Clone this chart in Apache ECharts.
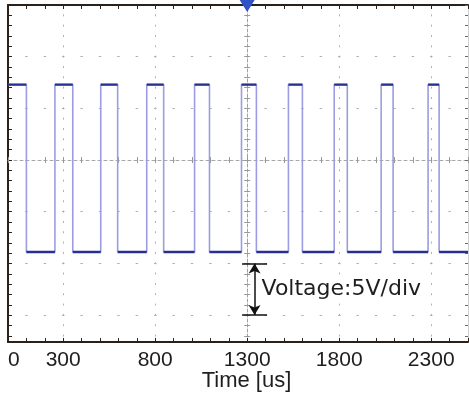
<!DOCTYPE html>
<html><head><meta charset="utf-8">
<script src="https://cdn.jsdelivr.net/npm/echarts@6/dist/echarts.min.js"></script>
<style>html,body{margin:0;padding:0;background:#fff}#c{width:469px;height:396px}</style>
</head><body><div id="c"></div>
<script>
// ---- data ----
const edgeTimes = [100, 255, 352, 504, 596, 754, 846, 1014, 1095, 1269, 1350, 1524, 1600, 1773, 1844, 2028, 2093, 2283, 2343]; // us, alternating fall / rise
const startsHigh = true;
const highLevel = 17.3;   // V
const lowLevel = 1.1;     // V
const timeStart = 0, timeEnd = 2500;          // us
const voltMin = -7.6, voltMax = 25;           // V
const xTickLabels = [0, 300, 800, 1300, 1800, 2300];
const xGridLines = [300, 800, 1300, 1800, 2300];
const yGridLines = [-5, 0, 5, 10, 15, 20];
const xMinorStep = 100, yMinorStep = 1;
const centerTime = 1300, centerVolt = 10;
const triggerTime = 1300;
const scaleBarTime = 1340, scaleBarFrom = 0, scaleBarTo = -5;
const scaleBarText = 'Voltage:5V/div';
const xAxisName = 'Time [us]';

// ---- build library structures ----
const wave = [];
let level = startsHigh ? highLevel : lowLevel;
wave.push([timeStart, level]);
edgeTimes.forEach(t => {
  wave.push([t, level]);
  level = (level === highLevel) ? lowLevel : highLevel;
  wave.push([t, level]);
});
wave.push([timeEnd, level]);
const plateaus = [];
for (let i = 0; i + 1 < wave.length; i += 2) { plateaus.push(wave[i], wave[i + 1], [wave[i + 1][0], '-']); }
const yMinorTicks = [];
for (let v = Math.ceil(voltMin); v <= voltMax; v += yMinorStep) yMinorTicks.push(v);

const edgeColor = '#2b2118';
const hidden = { axisLine: { show: false }, axisTick: { show: false }, axisLabel: { show: false }, splitLine: { show: false } };
const pxPerUs = 460 / (timeEnd - timeStart);
const capHalf = 12.5 / pxPerUs;

const chart = echarts.init(document.getElementById('c'), null, { renderer: 'canvas' });
chart.setOption({
  animation: false,
  backgroundColor: '#ffffff',
  grid: { left: 8, right: 1, top: 5, bottom: 54, containLabel: false, outerBoundsMode: 'none' },
  xAxis: [
    { // 0 bottom edge
      type: 'value', position: 'bottom', min: timeStart, max: timeEnd, interval: xMinorStep,
      axisLine: { onZero: false, lineStyle: { color: edgeColor, width: 2 } },
      axisTick: { inside: true, length: 4, lineStyle: { color: edgeColor } },
      axisLabel: { margin: 8, fontSize: 21, color: '#1e1e1e', fontFamily: 'Liberation Sans', alignMinLabel: 'left',
        formatter: v => xTickLabels.includes(v) ? String(v) : '' },
      splitLine: { show: false },
      name: xAxisName, nameLocation: 'middle', nameGap: 28, nameMoveOverlap: false,
      nameTextStyle: { fontSize: 22, color: '#1e1e1e', fontFamily: 'Liberation Sans', padding: [0, 0, 0, 17] }
    },
    { // 1 top edge
      type: 'value', position: 'top', min: timeStart, max: timeEnd, interval: xMinorStep,
      axisLine: { onZero: false, lineStyle: { color: edgeColor, width: 2 } },
      axisTick: { inside: true, length: 4, lineStyle: { color: edgeColor } },
      axisLabel: { show: false }, splitLine: { show: false }
    },
    { // 2 vertical grid lines
      type: 'value', position: 'bottom', min: timeStart, max: timeEnd,
      axisLine: { show: false, onZero: false }, axisLabel: { show: false },
      axisTick: { show: false, customValues: xGridLines },
      splitLine: { show: true, lineStyle: { color: '#b0b0b0', width: 1, type: [2, 8.33], dashOffset: 1 } }
    },
    { // 3 center horizontal line, ticks up
      type: 'value', position: 'bottom', min: timeStart, max: timeEnd, interval: xMinorStep,
      axisLine: { onZero: true, onZeroAxisIndex: 3, lineStyle: { color: '#a8a8a8', width: 1, type: [3, 3] } },
      axisTick: { inside: true, length: 3, lineStyle: { color: '#999' } },
      axisLabel: { show: false }, splitLine: { show: false }
    },
    { // 4 center horizontal line, ticks down
      type: 'value', position: 'bottom', min: timeStart, max: timeEnd, interval: xMinorStep,
      axisLine: { show: false, onZero: true, onZeroAxisIndex: 3 },
      axisTick: { inside: false, length: 3, lineStyle: { color: '#999' } },
      axisLabel: { show: false }, splitLine: { show: false }
    },
    Object.assign({ // 5 shifted helper so 0 sits at centerTime
      type: 'value', position: 'bottom', min: timeStart - centerTime, max: timeEnd - centerTime
    }, hidden, { axisLine: { show: false, onZero: false } })
  ],
  yAxis: [
    { // 0 left edge
      type: 'value', position: 'left', min: voltMin, max: voltMax,
      axisLine: { onZero: false, lineStyle: { color: edgeColor, width: 2 } },
      axisTick: { inside: true, length: 4, customValues: yMinorTicks, lineStyle: { color: edgeColor } },
      axisLabel: { show: false }, splitLine: { show: false }
    },
    { // 1 horizontal grid lines
      type: 'value', position: 'left', min: voltMin, max: voltMax,
      axisLine: { show: false, onZero: false }, axisLabel: { show: false },
      axisTick: { show: false, customValues: yGridLines },
      splitLine: { show: true, lineStyle: { color: '#b0b0b0', width: 1, type: [2.5, 15.9], dashOffset: 1.2 } }
    },
    { // 2 right edge
      type: 'value', position: 'right', min: voltMin, max: voltMax,
      axisLine: { onZero: false, lineStyle: { color: '#d0d0d0', width: 1 } },
      axisTick: { inside: true, length: 3, customValues: yMinorTicks, lineStyle: { color: '#6a6a6a' } },
      axisLabel: { show: false }, splitLine: { show: false }
    },
    Object.assign({ // 3 shifted helper so 0 sits at centerVolt
      type: 'value', position: 'left', min: voltMin - centerVolt, max: voltMax - centerVolt
    }, hidden, { axisLine: { show: false, onZero: false } }),
    { // 4 center vertical line, ticks right
      type: 'value', position: 'left', min: voltMin, max: voltMax,
      axisLine: { onZero: true, onZeroAxisIndex: 5, lineStyle: { color: '#a0a0a0', width: 1, type: [3, 2] } },
      axisTick: { inside: true, length: 3, customValues: yMinorTicks, lineStyle: { color: '#999' } },
      axisLabel: { show: false }, splitLine: { show: false }
    },
    { // 5 center vertical line, ticks left
      type: 'value', position: 'left', min: voltMin, max: voltMax,
      axisLine: { show: false, onZero: true, onZeroAxisIndex: 5 },
      axisTick: { inside: false, length: 3, customValues: yMinorTicks, lineStyle: { color: '#999' } },
      axisLabel: { show: false }, splitLine: { show: false }
    }
  ],
  series: [
    {
      type: 'line', xAxisIndex: 0, yAxisIndex: 0, data: wave, showSymbol: false, symbol: 'none',
      lineStyle: { color: '#9c9ce2', width: 1.6 }, z: 3, silent: true,
      markLine: {
        silent: true, symbol: 'none', label: { show: false },
        lineStyle: { color: '#111', width: 1.5, type: 'solid' },
        data: [
          [{ coord: [scaleBarTime, scaleBarFrom], symbol: 'arrow', symbolSize: [9, 10] },
           { coord: [scaleBarTime, scaleBarTo], symbol: 'arrow', symbolSize: [9, 10] }],
          [{ coord: [scaleBarTime - capHalf, scaleBarFrom] }, { coord: [scaleBarTime + capHalf, scaleBarFrom] }],
          [{ coord: [scaleBarTime - capHalf, scaleBarTo] }, { coord: [scaleBarTime + capHalf, scaleBarTo] }]
        ]
      },
      markPoint: {
        silent: true,
        data: [
          { coord: [scaleBarTime, (scaleBarFrom + scaleBarTo) / 2], symbol: 'circle', symbolSize: 0,
            label: { show: true, position: 'right', distance: 7, formatter: scaleBarText,
              fontSize: 22, color: '#1e1e1e', fontFamily: 'DejaVu Sans' } },
          { coord: [triggerTime, voltMax], symbol: 'triangle', symbolRotate: 180, symbolSize: [15, 12],
            symbolOffset: [0, 1], itemStyle: { color: '#3152c4' }, label: { show: false } }
        ]
      }
    },
    {
      type: 'line', xAxisIndex: 0, yAxisIndex: 0, data: plateaus, showSymbol: false, symbol: 'none',
      connectNulls: false, lineStyle: { color: '#26308e', width: 2.4 }, z: 4, silent: true
    }
  ]
});
</script></body></html>
